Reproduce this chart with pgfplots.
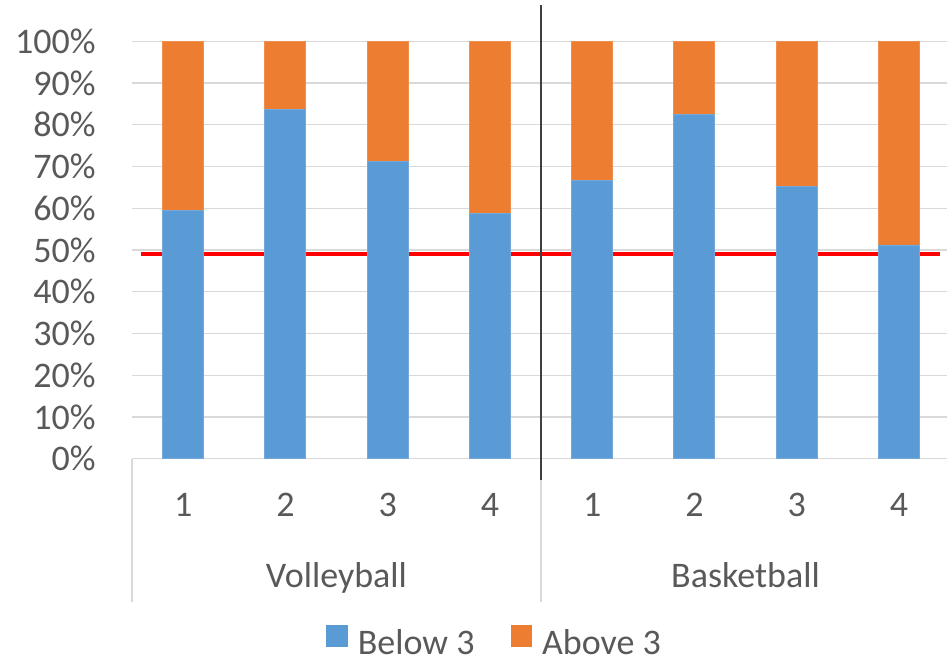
\documentclass[border=0pt]{standalone}
\usepackage{pgfplots}
\pgfplotsset{compat=1.18}
\usepackage{fontspec}
\setmainfont{Carlito}
\definecolor{bl}{HTML}{5B9BD5}
\definecolor{orng}{HTML}{ED7D31}
\definecolor{txt}{HTML}{595959}
\definecolor{grd}{HTML}{D9D9D9}
\definecolor{dk}{HTML}{404040}
\begin{document}
\begin{tikzpicture}[font=\fontsize{18}{21}\selectfont]
\useasboundingbox (0,0) rectangle (473.5pt,-329pt);
\begin{axis}[
  at={(66pt,-229.35pt)}, anchor=south west,
  scale only axis, width=409pt, height=208.7pt,
  xmin=0.5, xmax=8.5, ymin=0, ymax=100,
  ybar stacked, bar width=20.5pt,
  axis line style={draw=none},
  major tick length=0pt,
  ytick={0,10,...,100},
  yticklabel={\pgfmathprintnumber{\tick}\%},
  /pgf/number format/assume math mode=true,
  ymajorgrids, grid style={grd, line width=0.7pt},
  xtick={1,...,8}, xticklabels={1,2,3,4,1,2,3,4},
  extra x ticks={2.5,6.5}, extra x tick labels={Volleyball,Basketball},
  extra x tick style={grid=none, xticklabel style={yshift=-35.6pt}},
  ticklabel style={text=txt, font=\fontsize{18}{21}\selectfont},
  xticklabel style={anchor=base, inner sep=0pt, yshift=-29pt},
  yticklabel style={anchor=east, inner sep=0pt, xshift=-18pt},
  clip=false,
  legend style={at={(0.442,-0.438)}, anchor=center, draw=none, fill=none,
    legend columns=2, text=txt, font=\fontsize{18}{21}\selectfont,
    nodes={inner sep=0pt},
    /tikz/every odd column/.append style={column sep=5pt},
    /tikz/every even column/.append style={column sep=18pt}},
]
\addplot[fill=bl, draw=bl!85!white, line width=0.4pt,
  legend image code/.code={\fill[bl] (0pt,-1.5pt) rectangle (10.4pt,8.9pt);}]
  coordinates {(1,59.4) (2,83.7) (3,71.3) (4,58.7) (5,66.6) (6,82.5) (7,65.2) (8,51.2)};
\addlegendentry{Below 3}
\addplot[fill=orng, draw=orng!85!white, line width=0.4pt,
  legend image code/.code={\fill[orng] (0pt,-1.5pt) rectangle (10.4pt,8.9pt);}]
  coordinates {(1,40.6) (2,16.3) (3,28.7) (4,41.3) (5,33.4) (6,17.5) (7,34.8) (8,48.8)};
\addlegendentry{Above 3}
\addplot[dk, line width=1pt, sharp plot, stack plots=false, forget plot]
  coordinates {(4.5,-5.1) (4.5,108.6)};
\addplot[red, line width=2pt, sharp plot, stack plots=false, forget plot]
  coordinates {(0.588,49.0) (8.40,49.0)};
\draw[grd, line width=0.7pt] (axis cs:0.5,0) -- ([yshift=-71.5pt]axis cs:0.5,0);
\draw[grd, line width=0.7pt] (axis cs:4.5,-5.1) -- ([yshift=-71.5pt]axis cs:4.5,0);
\draw[grd, line width=0.7pt] (axis cs:8.5,0) -- ([yshift=-71.5pt]axis cs:8.5,0);
\end{axis}
\end{tikzpicture}
\end{document}
